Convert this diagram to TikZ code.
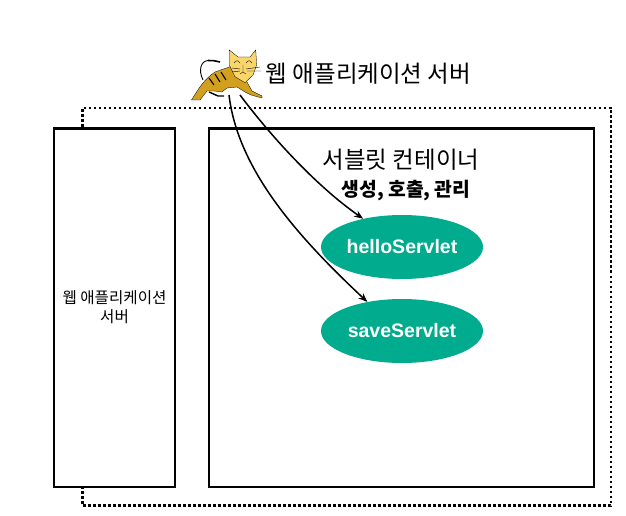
\documentclass[tikz,border=0pt]{standalone}
\usepackage{fontspec}
\setmainfont{Noto Sans CJK KR}
\newfontfamily\latinfont{Liberation Sans}
\usetikzlibrary{arrows.meta}
\usetikzlibrary{positioning}
\usetikzlibrary{shapes.geometric}
\definecolor{servletgreen}{HTML}{00AB8E}
\definecolor{catgold}{HTML}{D2A01E}
\definecolor{cathead}{HTML}{F9D66B}
\tikzset{
	serverbox/.style={draw, line width=2.2pt, minimum height=358pt, anchor=north west, inner sep=0pt},
	servlet/.style={ellipse, fill=servletgreen, text=white, minimum width=162pt, minimum height=64pt, inner sep=0pt, font=\fontsize{19.5}{20}\selectfont\latinfont\bfseries},
	callarrow/.style={line width=1.5pt, -{Stealth[length=9pt,width=7pt]}}
}
\begin{document}
\begin{tikzpicture}[x=1pt,y=-1pt]
	\useasboundingbox (0,0) rectangle (626,516);
	% outer server, dotted
	\draw[line width=2.2pt, dash pattern=on 2.8pt off 2.2pt] (82.5,127) -- (82.5,108) -- (611,108) -- (611,505.5) -- (82.5,505.5) -- (82.5,488);
	% boxes
	\node[serverbox, minimum width=120.5pt] (webbox) at (53,127.5) {};
	\node[serverbox, minimum width=384.8pt] (container) at (208,127.5) {};
	\node[align=center, font=\fontsize{15.6}{19}\selectfont] (weblabel) at (114.5,307.5) {웹 애플리케이션\\서버};
	\node[font=\fontsize{23.5}{26}\selectfont] (containerlabel) at (401,160) {서블릿 컨테이너};
	\node[font=\fontsize{19.3}{22}\selectfont\bfseries] (managelabel) at (406,190.5) {생성, 호출, 관리};
	% servlets
	\node[servlet] (hello) at (402,247) {\raisebox{-.7pt}{helloServlet}};
	\node[servlet] (save) at (402,331) {\raisebox{-.7pt}{saveServlet}};
	% tomcat
	\node[font=\fontsize{23.5}{26}\selectfont] (tomcatlabel) at (368.5,74) {웹 애플리케이션 서버};
	\coordinate (tomcatright) at (240,95);
	\coordinate (tomcatleft) at (229,95);
	% tail
	\draw[line width=.9pt] (203,80) .. controls (198,70) and (201,61) .. (208,60.5);
	\draw[line width=1.6pt] (208,60.5) .. controls (212,60) and (215,61) .. (220,62);
	% hind leg, body
	\draw[line width=1.4pt] (209,92) -- (218,96) -- (224,96);
	\fill[catgold, draw=black, line width=.3pt] (191.5,100) .. controls (198,90) and (203,80) .. (215,72) -- (232,66) -- (247,82) -- (252,91) -- (262,96) -- (262,98) -- (251,95) -- (245,92) -- (237,87) -- (227,88) -- (222,92) -- (214,91) -- (207,91) -- (200,100) -- cycle;
	\draw[line width=1.1pt] (209,78) -- (214,85) (215,74) -- (220,82) (221,72) -- (226,80);
	% head
	\fill[cathead, draw=black, line width=.3pt] (229.3,50) -- (238,57) -- (250,57) -- (255.7,50) -- (256.7,65) -- (253,75) -- (245,82.7) -- (235,76.7) -- (229.3,65) -- cycle;
	\draw[line width=.4pt] (234,63) .. controls (236,60) and (238,60) .. (240,63) (246,63) .. controls (248,60) and (250,60) .. (252,63) (243,65) -- (243,72) (240,74) -- (243,72) -- (246,74) (232,68) -- (240,69) (246,69) -- (260,67) (232,72) -- (240,71) (247,71) -- (261,71);
	\draw[callarrow] (tomcatright) .. controls (270,135) and (315,185) .. (hello.144);
	\draw[callarrow] (tomcatleft) .. controls (238,170) and (298,237) .. (save.140);
\end{tikzpicture}
\end{document}
